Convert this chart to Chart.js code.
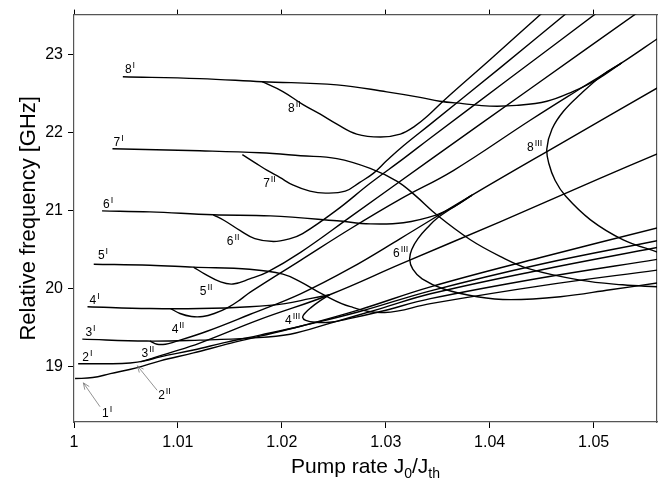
<!DOCTYPE html>
<html><head><meta charset="utf-8">
<script src="https://cdn.jsdelivr.net/npm/chart.js@4/dist/chart.umd.min.js"></script>
<style>html,body{margin:0;padding:0;background:#fff}#wrap{width:658px;height:487px;position:relative}</style>
</head><body><div id="wrap"><canvas id="c" width="658" height="487"></canvas></div>
<script>
// ---- axis ticks ----
const xTicks = [1, 1.01, 1.02, 1.03, 1.04, 1.05];
const yTicks = [19, 20, 21, 22, 23];

// ---- curves: [pump rate, relative frequency GHz] ----
const c1I = [[1.0001,18.85],[1.0018,18.863],[1.0035,18.913],[1.0061,18.99],[1.0083,19.077],[1.0115,19.178],[1.0147,19.29],[1.0179,19.393],[1.0218,19.52],[1.0275,19.733],[1.0343,20.024],[1.0449,20.40],[1.0562,20.78]];
const c2I = [[1.0004,19.04],[1.0035,19.04],[1.0054,19.05],[1.0068,19.077],[1.0083,19.128],[1.0115,19.216],[1.0147,19.317],[1.0179,19.406],[1.0218,19.52],[1.0275,19.708],[1.0343,19.973],[1.0449,20.314],[1.0562,20.617]];
const c2II = [[1.0064,19.064],[1.0092,19.178],[1.0121,19.304],[1.0179,19.607],[1.0246,19.923],[1.0314,20.314],[1.0410,20.857],[1.0506,21.413],[1.0562,21.73]];
const c3I = [[1.0008,19.355],[1.0070,19.33],[1.0121,19.342],[1.0169,19.367],[1.0208,19.418],[1.0246,19.557],[1.0295,19.746],[1.0343,19.935],[1.0449,20.24],[1.0562,20.53]];
const c3II = [[1.0073,19.33],[1.0080,19.29],[1.0088,19.29],[1.0096,19.317],[1.0128,19.456],[1.0169,19.67],[1.0218,19.935],[1.0266,20.263],[1.0314,20.642],[1.0383,21.198],[1.0468,21.855],[1.0562,22.575]];
const c4I = [[1.0013,19.77],[1.0073,19.746],[1.0121,19.746],[1.0169,19.77],[1.0203,19.81],[1.0227,19.873],[1.0246,19.923]];
const c4II = [[1.0093,19.746],[1.0102,19.683],[1.0113,19.645],[1.0124,19.645],[1.0135,19.683],[1.0148,19.758],[1.0161,19.87],[1.0170,19.96],[1.0218,20.364],[1.0266,20.768],[1.0314,21.147],[1.0365,21.513],[1.0439,22.157],[1.0487,22.56],[1.0527,22.89],[1.0562,23.206]];
const c4III = [[1.0246,19.923],[1.0237,19.847],[1.0228,19.758],[1.0222,19.683],[1.0220,19.632],[1.0223,19.594],[1.0232,19.57],[1.0246,19.57],[1.0266,19.62],[1.0295,19.708],[1.0343,19.873],[1.0449,20.138],[1.0562,20.378]];
const c5I = [[1.0019,20.314],[1.0073,20.30],[1.0115,20.276],[1.0169,20.25],[1.0201,20.187],[1.0218,20.087],[1.0240,19.923],[1.0266,19.77],[1.0299,19.695],[1.0343,19.81],[1.0449,20.037],[1.0562,20.24]];
const c5II = [[1.0115,20.276],[1.0126,20.187],[1.0141,20.087],[1.0153,20.06],[1.0169,20.125],[1.0186,20.213],[1.0218,20.466],[1.0266,20.92],[1.0343,21.653],[1.0439,22.56],[1.0545,23.56]];
const c6I = [[1.0027,20.996],[1.0073,20.984],[1.0134,20.946],[1.0189,20.933],[1.0253,20.87],[1.0285,20.83],[1.0317,20.845],[1.0349,20.946],[1.0367,21.06],[1.0383,21.198]];
const c6II = [[1.0134,20.946],[1.0145,20.87],[1.0160,20.743],[1.0174,20.642],[1.0192,20.605],[1.0208,20.642],[1.0220,20.705],[1.0253,21.009],[1.0285,21.35],[1.0317,21.665],[1.0343,21.93],[1.0420,22.70],[1.0506,23.56]];
const c6III = [[1.0383,21.198],[1.0364,21.034],[1.0350,20.908],[1.0341,20.794],[1.0331,20.642],[1.0325,20.503],[1.0323,20.378],[1.0326,20.25],[1.0335,20.125],[1.0355,20.0],[1.0388,19.898],[1.0420,19.86],[1.0468,19.898],[1.0516,19.987],[1.0562,20.075]];
const c7I = [[1.0037,21.792],[1.0121,21.766],[1.0179,21.74],[1.0218,21.703],[1.0253,21.665],[1.0285,21.54],[1.0311,21.375],[1.0328,21.198],[1.0349,20.946],[1.0381,20.63],[1.0410,20.415],[1.0439,20.25],[1.0487,20.11],[1.0528,20.05],[1.0562,20.024]];
const c7II = [[1.0162,21.716],[1.0174,21.615],[1.0186,21.514],[1.0198,21.425],[1.0211,21.325],[1.0227,21.249],[1.0242,21.224],[1.0261,21.249],[1.0275,21.362],[1.0288,21.476],[1.0301,21.64],[1.0317,21.83],[1.0343,22.107],[1.0410,22.827],[1.0477,23.56]];
const c8I = [[1.0047,22.713],[1.0121,22.69],[1.0181,22.65],[1.0253,22.61],[1.0301,22.52],[1.0333,22.45],[1.0352,22.40],[1.0374,22.37],[1.0400,22.338],[1.0426,22.347],[1.0455,22.40],[1.0480,22.524],[1.0503,22.675],[1.0527,22.89]];
const c8II = [[1.0181,22.65],[1.0201,22.524],[1.0220,22.36],[1.0237,22.234],[1.0253,22.107],[1.0272,21.98],[1.0295,21.943],[1.0314,21.98],[1.0328,22.082],[1.0341,22.221],[1.0357,22.423],[1.0400,22.928],[1.0453,23.56]];
const c8III = [[1.0527,22.89],[1.0509,22.739],[1.0487,22.486],[1.0471,22.271],[1.0460,22.044],[1.0455,21.792],[1.0457,21.60],[1.0463,21.385],[1.0473,21.186],[1.0497,20.882],[1.0528,20.63],[1.0562,20.466]];

const curves = [c1I,c2I,c2II,c3I,c3II,c4I,c4II,c4III,c5I,c5II,c6I,c6II,c6III,c7I,c7II,c8I,c8II,c8III];

// ---- branch labels: mode number, branch, anchor (x, y) ----
const branchLabels = [
  ['8','I',1.0049,22.764],['7','I',1.0038,21.83],['6','I',1.0028,21.034],['5','I',1.0023,20.378],
  ['4','I',1.0015,19.81],['3','I',1.0011,19.393],['2','I',1.0008,19.077],['1','I',1.0027,18.36],
  ['2','II',1.0081,18.585],['3','II',1.0065,19.13],['4','II',1.0094,19.43],['5','II',1.0121,19.923],
  ['6','II',1.0147,20.565],['7','II',1.0182,21.297],['8','II',1.0206,22.26],
  ['4','III',1.0203,19.545],['6','III',1.0307,20.41],['8','III',1.0436,21.765]
];
// ---- pointer arrows: from (x,y) to (x,y) ----
const arrows = [
  [1.0025,18.49,1.0009,18.795],
  [1.0080,18.70,1.0061,19.013]
];

const FONT = '"Liberation Sans", Arial, Helvetica, sans-serif';

const annot = {
  id: 'annot',
  afterDraw(chart) {
    const ctx = chart.ctx, xs = chart.scales.x, ys = chart.scales.y;
    ctx.save();
    ctx.fillStyle = '#000';
    ctx.textBaseline = 'alphabetic';
    ctx.textAlign = 'left';
    branchLabels.forEach(([n, r, x, y]) => {
      const px = xs.getPixelForValue(x), py = ys.getPixelForValue(y);
      ctx.font = '12px ' + FONT;
      ctx.fillText(n, px, py);
      const w = ctx.measureText(n).width;
      ctx.font = '9px ' + FONT;
      ctx.fillText(r, px + w + 1, py - 5);
    });
    ctx.strokeStyle = '#777';
    ctx.lineWidth = 0.8;
    arrows.forEach(([x0, y0, x1, y1]) => {
      const a = xs.getPixelForValue(x0), b = ys.getPixelForValue(y0);
      const c = xs.getPixelForValue(x1), d = ys.getPixelForValue(y1);
      ctx.beginPath(); ctx.moveTo(a, b); ctx.lineTo(c, d); ctx.stroke();
      const ang = Math.atan2(d - b, c - a), L = 7, s = 0.4;
      ctx.beginPath();
      ctx.moveTo(c - L * Math.cos(ang - s), d - L * Math.sin(ang - s));
      ctx.lineTo(c, d);
      ctx.lineTo(c - L * Math.cos(ang + s), d - L * Math.sin(ang + s));
      ctx.stroke();
    });
    // axis titles
    ctx.fillStyle = '#000';
    const ca = chart.chartArea;
    const parts = [['Pump rate J', 21, 0], ['0', 14, 5], ['/J', 21, 0], ['th', 14, 5]];
    let total = 0;
    parts.forEach(p => { ctx.font = p[1] + 'px ' + FONT; total += ctx.measureText(p[0]).width; });
    let cx = (ca.left + ca.right) / 2 - total / 2;
    parts.forEach(p => { ctx.font = p[1] + 'px ' + FONT; ctx.fillText(p[0], cx, 473 + p[2]); cx += ctx.measureText(p[0]).width; });
    ctx.translate(35, (ca.top + ca.bottom) / 2);
    ctx.rotate(-Math.PI / 2);
    ctx.font = '22px ' + FONT;
    ctx.textAlign = 'center';
    ctx.fillText('Relative frequency [GHz]', 0, 0);
    ctx.restore();
  }
};

const fmt = v => String(+(+v).toFixed(2));
const XMIN = 1, XMAX = 1.0561, YMIN = 18.294, YMAX = 23.509;

new Chart(document.getElementById('c'), {
  type: 'scatter',
  data: {
    datasets: curves.map(c => ({
      data: c.map(([x, y]) => ({ x, y })),
      showLine: true, borderColor: '#000', borderWidth: 1.4,
      pointRadius: 0, pointHoverRadius: 0, tension: 0.4, fill: false
    }))
  },
  options: {
    responsive: false, animation: false, devicePixelRatio: 1,
    layout: { padding: 0 },
    plugins: { legend: { display: false }, tooltip: { enabled: false } },
    scales: {
      x: {
        type: 'linear', position: 'bottom', min: XMIN, max: XMAX,
        afterBuildTicks: s => { s.ticks = xTicks.map(v => ({ value: v })); },
        afterFit: s => { s.height = 65; },
        ticks: { callback: fmt, font: { size: 16, family: FONT }, color: '#000', padding: 5, maxRotation: 0, autoSkip: false },
        grid: { drawOnChartArea: false, tickLength: 6, tickColor: '#000', tickWidth: 1 },
        border: { display: true, color: '#555', width: 1.2 }
      },
      x2: {
        type: 'linear', position: 'top', min: XMIN, max: XMAX,
        afterBuildTicks: s => { s.ticks = xTicks.map(v => ({ value: v })); },
        afterFit: s => { s.height = 9; },
        ticks: { display: false },
        grid: { drawOnChartArea: false, tickLength: 5, tickColor: '#000', tickWidth: 1 },
        border: { display: true, color: '#555', width: 1.2 }
      },
      y: {
        type: 'linear', position: 'left', min: YMIN, max: YMAX,
        afterBuildTicks: s => { s.ticks = yTicks.map(v => ({ value: v })); },
        afterFit: s => { s.width = 74; },
        ticks: { callback: fmt, font: { size: 16, family: FONT }, color: '#000', padding: 5, autoSkip: false },
        grid: { drawOnChartArea: false, tickLength: 6, tickColor: '#000', tickWidth: 1 },
        border: { display: true, color: '#555', width: 1.2 }
      },
      y2: {
        type: 'linear', position: 'right', min: YMIN, max: YMAX,
        afterBuildTicks: s => { s.ticks = yTicks.map(v => ({ value: v })); },
        afterFit: s => { s.width = 1; },
        ticks: { display: false },
        grid: { drawOnChartArea: false, drawTicks: false },
        border: { display: true, color: '#555', width: 1.2 }
      }
    }
  },
  plugins: [annot]
});
</script></body></html>
